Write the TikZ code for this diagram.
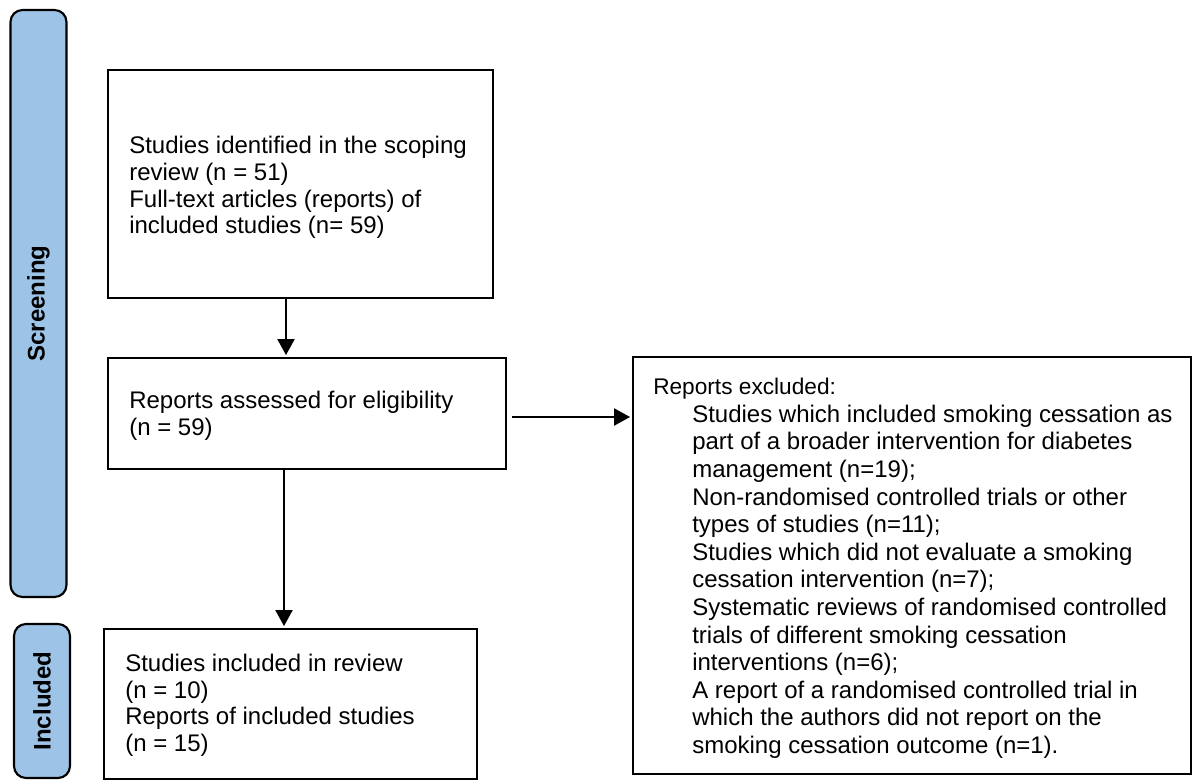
\documentclass[tikz,border=0pt]{standalone}
\usepackage{fontspec}
\setmainfont{Liberation Sans}
\usetikzlibrary{arrows.meta}
\definecolor{stagefill}{RGB}{157,195,230}
\begin{document}
\begin{tikzpicture}[x=0.75pt,y=-0.75pt,
  frame/.style={draw, line width=1.8pt, anchor=north west, inner sep=0pt},
  body/.style={anchor=west, align=left, inner sep=0pt, font=\fontsize{18}{20}\selectfont},
  stage/.style={draw, line width=1.6pt, fill=stagefill, rounded corners=9pt, rotate=90,
    inner sep=0pt, font=\fontsize{18}{20}\selectfont\bfseries},
  flow/.style={line width=0.8pt, -{Triangle[length=12pt,width=13pt]}, shorten >=1.5pt}]
\useasboundingbox (0,0) rectangle (1192,781);

% stage bars on the left
\node[stage, minimum width={587*0.75pt}, minimum height={56*0.75pt}] (scr) at (38.5,303.5) {Screening};
\node[stage, minimum width={154*0.75pt}, minimum height={56*0.75pt}] (inc) at (42,701) {Included};

% flow boxes
\node[frame, minimum width={385*0.75pt}, minimum height={228*0.75pt}] (b1) at (107,69) {};
\node[frame, minimum width={398*0.75pt}, minimum height={111*0.75pt}] (b2) at (107,357) {};
\node[frame, minimum width={558*0.75pt}, minimum height={417*0.75pt}] (b3) at (632,356) {};
\node[frame, minimum width={373*0.75pt}, minimum height={150*0.75pt}] (b4) at (103,628) {};

% box texts
\node[body] (t1) at ([xshift=16.5pt, yshift=-2.5pt]b1.west)
  {Studies identified in the scoping\\review (n = 51)\\Full-text articles (reports) of\\included studies (n= 59)};
\node[body] (t2) at ([xshift=16.5pt, yshift=-1.5pt]b2.west)
  {Reports assessed for eligibility\\(n = 59)};
\node[body, font=\fontsize{18}{20.7}\selectfont] (t3) at ([xshift=15.75pt, yshift=-2pt]b3.west)
  {{\fontsize{17}{20}\selectfont Reports excluded:}\\
   \hspace*{29.25pt}Studies which included smoking cessation as\\
   \hspace*{29.25pt}part of a broader intervention for diabetes\\
   \hspace*{29.25pt}management (n=19);\\
   \hspace*{29.25pt}Non-randomised controlled trials or other\\
   \hspace*{29.25pt}types of studies (n=11);\\
   \hspace*{29.25pt}Studies which did not evaluate a smoking\\
   \hspace*{29.25pt}cessation intervention (n=7);\\
   \hspace*{29.25pt}Systematic reviews of randomised controlled\\
   \hspace*{29.25pt}trials of different smoking cessation\\
   \hspace*{29.25pt}interventions (n=6);\\
   \hspace*{29.25pt}A report of a randomised controlled trial in\\
   \hspace*{29.25pt}which the authors did not report on the\\
   \hspace*{29.25pt}smoking cessation outcome (n=1).};
\node[body] (t4) at ([xshift=16.5pt, yshift=-0.75pt]b4.west)
  {Studies included in review\\(n = 10)\\Reports of included studies\\(n = 15)};

% connectors
\coordinate (ax1) at (286,0);
\coordinate (ax2) at (284,0);
\coordinate (ay) at (0,417);
\draw[flow] (b1.south -| ax1) -- (b2.north -| ax1);
\draw[flow] (b2.south -| ax2) -- (b4.north -| ax2);
\draw[flow, shorten <=3.75pt] (b2.east |- ay) -- (b3.west |- ay);
\end{tikzpicture}
\end{document}
